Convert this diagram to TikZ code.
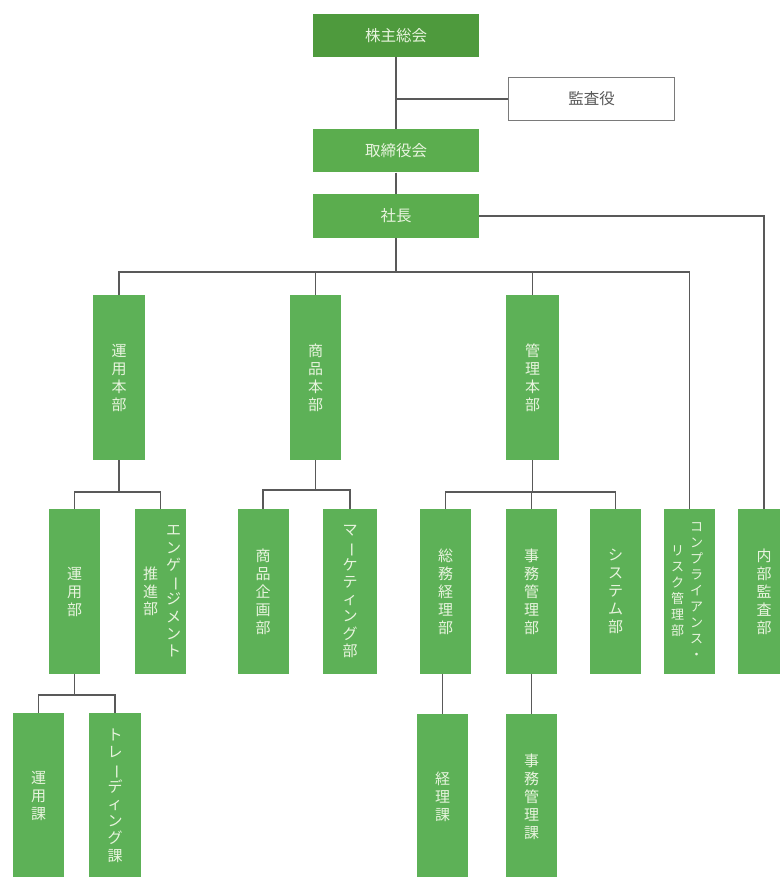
\documentclass[tikz,border=0pt]{standalone}
\usepackage{fontspec}
\usepackage{graphicx}
\setmainfont{Noto Sans CJK JP}
\definecolor{gdark}{HTML}{4E9A3D}
\definecolor{gmid}{HTML}{5BAD4E}
\definecolor{gvert}{HTML}{5DB157}
\definecolor{txtlight}{HTML}{E8F4DE}
\definecolor{linegray}{HTML}{595959}
\newcommand{\vbar}{\rotatebox[origin=c]{-90}{ー}}
\begin{document}
\begin{tikzpicture}[x=1pt,y=-1pt,
  hbox/.style={fill=gmid,draw=none,minimum width=166pt,minimum height=43pt,inner sep=0pt,
    text=txtlight,font=\fontsize{15.5}{18}\selectfont},
  vbox/.style={fill=gvert,draw=none,minimum width=51pt,minimum height=165pt,inner sep=0pt,
    text=txtlight,align=center,font=\fontsize{15}{18}\selectfont},
  vtext/.style={inner sep=0pt,text=txtlight,align=center,font=\fontsize{15}{17.3}\selectfont},
  vtexts/.style={inner sep=0pt,text=txtlight,align=center,font=\fontsize{13}{16}\selectfont},
  conn/.style={draw=linegray,line width=1.4pt}]
\useasboundingbox (0,0) rectangle (779,877);
\fill[white] (0,0) rectangle (779,877);

% top level
\node[hbox,fill=gdark] (kabu) at (396,35.5) {株主総会};
\node[hbox,fill=white,draw=linegray!80,line width=1.3pt,text=linegray,minimum width=166pt,minimum height=43pt] (kansa) at (591.5,99) {監査役};
\node[hbox] (tori) at (396,151) {取締役会};
\node[hbox,minimum height=44pt] (shacho) at (396,216) {社長};

% divisions
\node[vbox,minimum width=52pt] (unyohon) at (119,377.5) {運\\用\\本\\部};
\node[vbox] (shohin) at (315.5,377.5) {商\\品\\本\\部};
\node[vbox,minimum width=53pt] (kanri) at (532.5,377.5) {管\\理\\本\\部};

% departments
\node[vbox] (unyobu) at (74.5,591.5) {運\\用\\部};
\node[vbox] (eng) at (160.5,591.5) {};
\node[vtext] (engA) at ([xshift=13pt]eng.center) {エ\\ン\\ゲ\\\vbar\\ジ\\メ\\ン\\ト};
\node[vtext] (engB) at ([xshift=-10pt]eng.center) {推\\進\\部};
\node[vbox] (kikaku) at (263,591.5) {商\\品\\企\\画\\部};
\node[vbox,minimum width=54pt,font=\fontsize{15}{17.3}\selectfont] (mkt) at (350,591.5) {マ\\\vbar\\ケ\\テ\\ィ\\ン\\グ\\部};
\node[vbox] (somu) at (445.5,591.5) {総\\務\\経\\理\\部};
\node[vbox] (jimu) at (531.5,591.5) {事\\務\\管\\理\\部};
\node[vbox] (sys) at (615.5,591.5) {シ\\ス\\テ\\ム\\部};
\node[vbox] (comp) at (689.5,591.5) {};
\node[vtexts] (compA) at ([xshift=7pt]comp.center) {コ\\ン\\プ\\ラ\\イ\\ア\\ン\\ス\\・};
\node[vtexts] (compB) at ([xshift=-12pt]comp.center) {リ\\ス\\ク\\管\\理\\部};
\node[vbox,minimum width=52pt] (naibu) at (764,591.5) {内\\部\\監\\査\\部};

% sections
\node[vbox] (unyoka) at (38.5,795.5) {運\\用\\課};
\node[vbox,minimum width=52pt,font=\fontsize{15}{17.3}\selectfont] (trade) at (115,795.5) {ト\\レ\\\vbar\\デ\\ィ\\ン\\グ\\課};
\node[vbox] (keiri) at (442.5,796.5) {経\\理\\課};
\node[vbox] (jimuka) at (531.5,796.5) {事\\務\\管\\理\\課};

% bus coordinates
\coordinate (b1) at (396,272);
\coordinate (b2) at (119,492);
\coordinate (b3) at (315.5,490);
\coordinate (b4) at (532.5,492);
\coordinate (b5) at (74.5,695);

% connectors
\draw[conn] (kabu.south) -- (tori.north);
\draw[conn] (kansa.west) -- (kansa.west -| kabu.south);
\draw[conn] (tori.south) -- (shacho.north);
\draw[conn] (shacho.east) -| (naibu.north);
\draw[conn] (shacho.south) -- (b1);
\draw[conn] (unyohon.north) |- (b1) -| (comp.north);
\draw[conn] (shohin.north) -- (shohin.north |- b1);
\draw[conn] (kanri.north) -- (kanri.north |- b1);

\draw[conn] (unyohon.south) -- (b2);
\draw[conn] (unyobu.north) |- (b2) -| (eng.north);
\draw[conn] (shohin.south) -- (b3);
\draw[conn] (kikaku.north) |- (b3) -| (mkt.north);
\draw[conn] (kanri.south) -- (b4);
\draw[conn] (somu.north) |- (b4) -| (sys.north);
\draw[conn] (jimu.north) -- (jimu.north |- b4);

\draw[conn] (unyobu.south) -- (b5);
\draw[conn] (unyoka.north) |- (b5) -| (trade.north);
\draw[conn] (somu.south -| keiri.north) -- (keiri.north);
\draw[conn] (jimu.south) -- (jimuka.north);
\end{tikzpicture}
\end{document}
